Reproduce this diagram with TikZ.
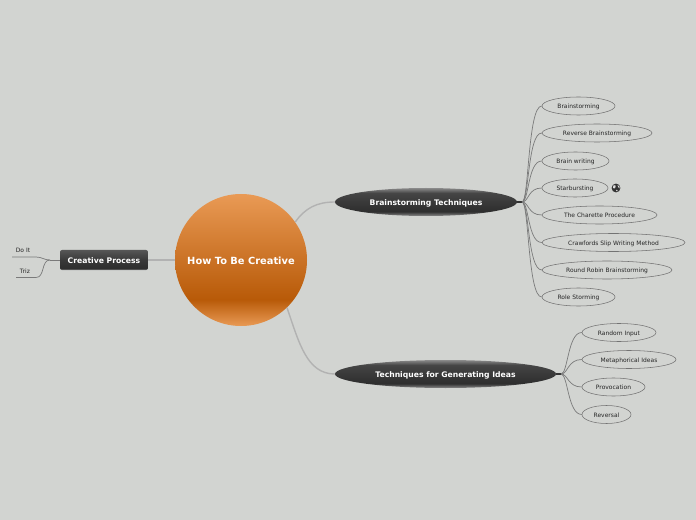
\documentclass[tikz,border=0pt]{standalone}
\usepackage{fontspec}
\setmainfont{DejaVu Sans}
\usetikzlibrary{shapes.geometric}
\definecolor{bgc}{HTML}{D2D4D1}
\definecolor{orbA}{HTML}{E99A55}
\definecolor{orbB}{HTML}{B85A08}
\definecolor{dkE}{HTML}{8A8A8A}
\definecolor{dkB}{HTML}{2E2E2E}
\definecolor{dkM}{HTML}{393939}
\definecolor{dkT}{HTML}{454545}
\definecolor{boxT}{HTML}{565656}
\pgfdeclareverticalshading{orbshade}{100bp}{color(0bp)=(orbA); color(25bp)=(orbA); color(35bp)=(orbB); color(75bp)=(orbA); color(100bp)=(orbA)}
\pgfdeclareverticalshading{darkshade}{100bp}{color(0bp)=(dkE); color(25bp)=(dkE); color(33bp)=(dkB); color(50bp)=(dkM); color(66bp)=(dkT); color(75bp)=(dkE); color(100bp)=(dkE)}
\pgfdeclareverticalshading{boxshade}{100bp}{color(0bp)=(dkE); color(25bp)=(dkE); color(29bp)=(dkB); color(50bp)=(dkM); color(75bp)=(boxT); color(100bp)=(boxT)}
\tikzset{
  rootnode/.style={circle,minimum size=132bp,inner sep=0pt,shading=orbshade,text=white,text height=9.3pt,text depth=0pt,font=\fontsize{9.9}{12}\selectfont\bfseries},
  bignode/.style={ellipse,inner sep=0pt,minimum height=28bp,shading=darkshade,text=white,text height=7.5pt,text depth=0pt,font=\fontsize{7.7}{9}\selectfont\bfseries},
  boxnode/.style={rectangle,rounded corners=2bp,inner sep=0pt,minimum width=88bp,minimum height=20bp,shading=boxshade,text=white,text height=7.5pt,text depth=0pt,font=\fontsize{7.7}{9}\selectfont\bfseries},
  leaf/.style={ellipse,draw=black!55,line width=.55bp,inner sep=0pt,minimum height=18bp,text=black!85,text height=6pt,text depth=0pt,font=\fontsize{6}{7}\selectfont},
  plain/.style={inner sep=0pt,text=black!85,text height=6pt,text depth=0pt,font=\fontsize{6}{7}\selectfont},
  trunk/.style={draw=black!30,line width=1.4bp},
  twig/.style={draw=black!52,line width=.7bp},
  stub/.style={draw=black!80,line width=1.1bp}
}
\begin{document}
\begin{tikzpicture}[x=1bp,y=-1bp]
\useasboundingbox (0,0) rectangle (696,520);
\fill[bgc] (0,0) rectangle (696,520);
% main nodes
\node[rootnode] (root) at (241,260) {How To Be Creative};
\node[bignode,minimum width=182bp] (bt) at (426,202) {Brainstorming Techniques};
\node[bignode,minimum width=221bp] (tg) at (445.5,374) {Techniques for Generating Ideas};
\node[boxnode] (cp) at (104,260) {Creative Process};
% leaves
\node[leaf,minimum width=73bp] (a1) at (578.5,106) {Brainstorming};
\node[leaf,minimum width=110bp] (a2) at (597,133) {Reverse Brainstorming};
\node[leaf,minimum width=67bp] (a3) at (575.5,161) {Brain writing};
\node[leaf,minimum width=66bp] (a4) at (575,188) {Starbursting};
\node[leaf,minimum width=115bp] (a5) at (599.5,215) {The Charette Procedure};
\node[leaf,minimum width=143bp] (a6) at (613.5,242.5) {Crawfords Slip Writing Method};
\node[leaf,minimum width=130bp] (a7) at (607,270) {Round Robin Brainstorming};
\node[leaf,minimum width=73bp] (a8) at (578.5,297) {Role Storming};
\node[leaf,minimum width=74bp] (b1) at (619,332.5) {Random Input};
\node[leaf,minimum width=94bp] (b2) at (629,359.5) {Metaphorical Ideas};
\node[leaf,minimum width=63bp] (b3) at (613.5,387) {Provocation};
\node[leaf,minimum width=49bp] (b4) at (606.5,414.5) {Reversal};
\node[plain] (d1) at (23,250) {Do It};
\node[plain] (d2) at (25,271) {Triz};
% free ends
\coordinate (h1) at (522,202);
\coordinate (h2) at (561,374);
\coordinate (h3) at (50,260);
\coordinate (e1) at (12,257);
\coordinate (e1b) at (36,257);
\coordinate (e2) at (16,277.5);
\coordinate (e2b) at (36,277.5);
% trunks
\draw[trunk] (root.35) .. controls +(10,-14) and +(-18,0) .. (bt.west);
\draw[trunk] (root.-46) .. controls +(12,35) and +(-28,0) .. (tg.west);
\draw[trunk] (root.west) -- (cp.east);
% stubs
\draw[stub] (bt.east) -- (h1);
\draw[stub] (tg.east) -- (h2);
\draw[twig,line width=.9bp] (cp.west) -- (h3);
% twigs
\foreach \n in {a1,a2,a3,a4,a5,a6,a7,a8}
  \draw[twig] (h1) .. controls +(7,0) and +(-14,0) .. (\n.west);
\foreach \n in {b1,b2,b3,b4}
  \draw[twig] (h2) .. controls +(7,0) and +(-14,0) .. (\n.west);
\draw[twig] (h3) .. controls +(-6,0) and +(6,0) .. (e1b) -- (e1);
\draw[twig] (h3) .. controls +(-9,0) and +(9,0) .. (e2b) -- (e2);
% globe
\fill[black!80] (616,188) circle (4.4bp);
\fill[black!12] (613.4,185.4) .. controls (615,184.4) and (616,185.4) .. (615.6,187) .. controls (615.2,188.6) and (614,189) .. (613,188) -- cycle;
\fill[black!12] (617.5,185) .. controls (619,185.4) and (620,187) .. (619.6,188.4) .. controls (618.6,188) and (617.6,186.6) .. cycle;
\fill[black!12] (616,190) .. controls (617,189.6) and (618,190) .. (617.6,191.2) .. controls (616.8,191.8) and (616,191) .. cycle;
\end{tikzpicture}
\end{document}
